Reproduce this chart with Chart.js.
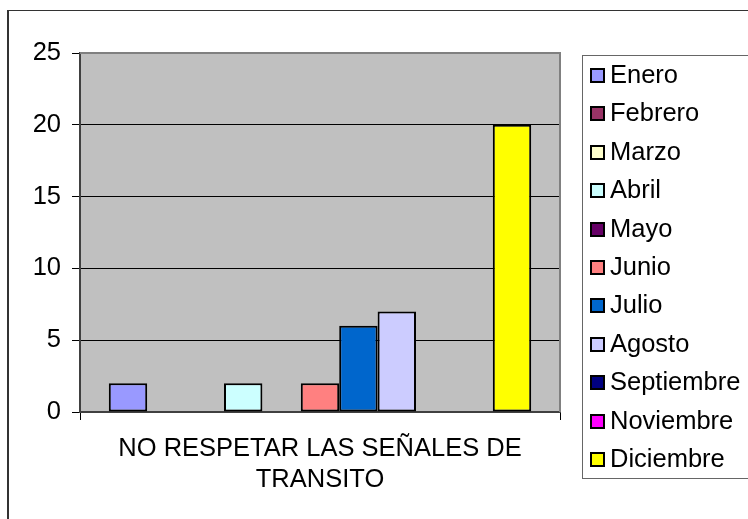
<!DOCTYPE html>
<html>
<head>
<meta charset="utf-8">
<script src="https://cdn.jsdelivr.net/npm/chart.js@4/dist/chart.umd.min.js"></script>
<style>
html,body{margin:0;padding:0;background:#fff;}
canvas{display:block;}
</style>
</head>
<body>
<canvas id="c" width="748" height="519" style="width:748px;height:519px"></canvas>
<script>
const categories = [["NO RESPETAR LAS SEÑALES DE", "TRANSITO"]];
const months = ["Enero","Febrero","Marzo","Abril","Mayo","Junio","Julio","Agosto","Septiembre","Noviembre","Diciembre"];
const values = [2, 0, 0, 2, 0, 2, 6, 7, 0, 0, 20];
const colors = ["#9999FF","#993366","#FFFFCC","#CCFFFF","#660066","#FF8080","#0066CC","#CCCCFF","#000080","#FF00FF","#FFFF00"];
const yTicks = [0, 5, 10, 15, 20, 25];

const FONT = "'Liberation Sans', Arial, sans-serif";
const FSIZE = 25.5;

const frame = {
  id: 'frame',
  beforeDraw(chart) {
    const {ctx, chartArea: a} = chart;
    ctx.save();
    ctx.fillStyle = '#fff';
    ctx.fillRect(0, 0, chart.width, chart.height);
    ctx.fillStyle = '#C0C0C0';
    ctx.fillRect(a.left, a.top, a.right - a.left, a.bottom - a.top);
    ctx.restore();
  },
  afterDatasetsDraw(chart) {
    const {ctx, chartArea: a} = chart;
    ctx.save();
    ctx.strokeStyle = '#808080';
    ctx.lineWidth = 2;
    ctx.beginPath();
    ctx.moveTo(a.left, a.top);
    ctx.lineTo(a.right, a.top);
    ctx.lineTo(a.right, a.bottom);
    ctx.stroke();
    ctx.restore();
  },
  afterDraw(chart) {
    const {ctx} = chart;
    ctx.save();
    // outer chart border
    ctx.fillStyle = '#333';
    ctx.fillRect(7, 10, 2, chart.height - 10);
    ctx.fillRect(7, 10, chart.width - 7, 1);
    // legend
    const lx = 582, ly = 55, lh = 423;
    ctx.strokeStyle = '#666';
    ctx.lineWidth = 1;
    ctx.strokeRect(lx + 0.5, ly + 0.5, 400, lh);
    ctx.font = FSIZE + 'px ' + FONT;
    ctx.textBaseline = 'middle';
    ctx.textAlign = 'left';
    chart.data.datasets.forEach((ds, i) => {
      const cy = 75 + i * 38.4;
      ctx.fillStyle = '#000';
      ctx.fillRect(590, Math.round(cy - 7), 15, 15);
      ctx.fillStyle = ds.backgroundColor;
      ctx.fillRect(592, Math.round(cy - 5), 11, 11);
      ctx.fillStyle = '#000';
      ctx.fillText(ds.label, 610, cy + 1);
    });
    ctx.restore();
  }
};

new Chart(document.getElementById('c'), {
  type: 'bar',
  data: {
    labels: categories,
    datasets: months.map((m, i) => ({
      label: m,
      data: [values[i]],
      backgroundColor: colors[i],
      borderColor: '#000',
      borderWidth: 2,
      borderSkipped: false
    }))
  },
  options: {
    responsive: false,
    devicePixelRatio: 1,
    animation: false,
    layout: { padding: { top: 53, right: 188, left: 0, bottom: 0 } },
    datasets: { bar: { categoryPercentage: 0.88, barPercentage: 1 } },
    plugins: { legend: { display: false }, tooltip: { enabled: false } },
    scales: {
      x: {
        afterFit(s) { s.height = 107; },
        grid: { drawOnChartArea: false, offset: true, tickLength: 8, color: '#000', lineWidth: 1 },
        border: { color: '#404040', width: 2 },
        ticks: { color: '#000', font: { family: FONT, size: FSIZE, lineHeight: 1.24 }, padding: 13, maxRotation: 0, autoSkip: false }
      },
      y: {
        min: yTicks[0],
        max: yTicks[yTicks.length - 1],
        afterFit(s) { s.width = 80; },
        afterBuildTicks(s) { s.ticks = yTicks.map(v => ({ value: v })); },
        grid: {
          color: ctx => (ctx.tick && ctx.tick.value === 25) ? 'rgba(0,0,0,0)' : '#000',
          tickColor: '#000',
          tickLength: 8,
          lineWidth: 1
        },
        border: { color: '#404040', width: 2 },
        ticks: { color: '#000', font: { family: FONT, size: FSIZE }, padding: 11 }
      }
    }
  },
  plugins: [frame]
});
</script>
</body>
</html>
